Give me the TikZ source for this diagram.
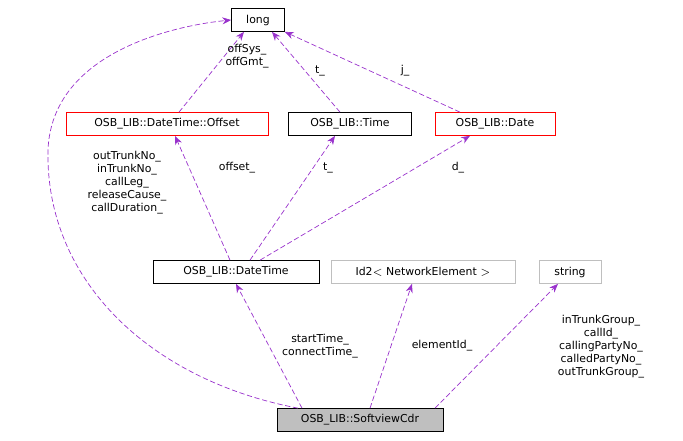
\documentclass[tikz,border=0pt]{standalone}
\usepackage{fontspec}
\setmainfont{DejaVu Sans}
\usetikzlibrary{arrows.meta,positioning,calc}
\definecolor{edgecol}{RGB}{153,50,204}
\definecolor{boxgray}{RGB}{191,191,191}
\tikzset{every picture/.style={font=\fontsize{6.2}{7.4}\selectfont},
  cls/.style={draw=black,fill=white,minimum height=0.46cm,inner xsep=3pt,anchor=center},
  redcls/.style={cls,draw=red},
  graycls/.style={cls,draw=boxgray},
  cur/.style={cls,fill=boxgray},
  use/.style={draw=edgecol,dash pattern=on 3pt off 1.5pt,-{Stealth[length=5pt,width=4pt]},fill=none},
  lbl/.style={align=center,inner sep=0pt}
}
\begin{document}
\begin{tikzpicture}[x=0.02cm,y=-0.02cm]
\useasboundingbox (0,0) rectangle (683,440);
%boxes
\node[cls,minimum width=1.06cm] (long) at (258,20) {long};
\node[redcls,minimum width=4.04cm] (offset) at (167,124) {OSB\_LIB::DateTime::Offset};
\node[cls,minimum width=2.46cm] (time) at (350,124) {OSB\_LIB::Time};
\node[redcls,minimum width=2.4cm] (date) at (495,124) {OSB\_LIB::Date};
\node[cls,minimum width=3.32cm] (dt) at (236,272) {OSB\_LIB::DateTime};
\node[graycls,minimum width=3.68cm] (id2) at (423,272) {Id2$<$ NetworkElement $>$};
\node[graycls,minimum width=1.24cm] (str) at (570,272) {string};
\node[cur,minimum width=3.32cm] (cdr) at (360,420) {OSB\_LIB::SoftviewCdr};

%edges
\draw[use] ($(cdr.north)+(-62,0)$) .. controls (150,380) and (45,280) .. (48,150)
  .. controls (52,50) and (180,25) .. (long.west);
\draw[use] ($(offset.north)+(12,0)$) -- ($(long.south)+(-14,0)$);
\draw[use] ($(time.north)+(-10,0)$) -- ($(long.south)+(14,0)$);
\draw[use] ($(date.north)+(-35,0)$) -- (long.south east);
\draw[use] ($(dt.north)+(-6,0)$) -- ($(offset.south)+(8,0)$);
\draw[use] ($(dt.north)+(14,0)$) -- ($(time.south)+(-15,0)$);
\draw[use] ($(dt.north)+(24,0)$) -- ($(date.south)+(-25,0)$);
\draw[use] ($(cdr.north)+(-58,0)$) -- (dt.south);
\draw[use] ($(cdr.north)+(10,0)$) -- ($(id2.south)+(-11,0)$);
\draw[use] ($(cdr.north)+(75,0)$) -- ($(str.south)+(-12,0)$);

%labels
\node[lbl] (l1) at (127,183) {outTrunkNo\_\\inTrunkNo\_\\callLeg\_\\releaseCause\_\\callDuration\_};
\node[lbl] (l2) at (247,56) {offSys\_\\offGmt\_};
\node[lbl] (l3) at (320,71) {t\_};
\node[lbl] (l4) at (405,71) {j\_};
\node[lbl] (l5) at (237,168) {offset\_};
\node[lbl] (l6) at (328,168) {t\_};
\node[lbl] (l7) at (458,168) {d\_};
\node[lbl] (l8) at (320,346) {startTime\_\\connectTime\_};
\node[lbl] (l9) at (442,346) {elementId\_};
\node[lbl] (l10) at (601,347) {inTrunkGroup\_\\callId\_\\callingPartyNo\_\\calledPartyNo\_\\outTrunkGroup\_};
\end{tikzpicture}
\end{document}
